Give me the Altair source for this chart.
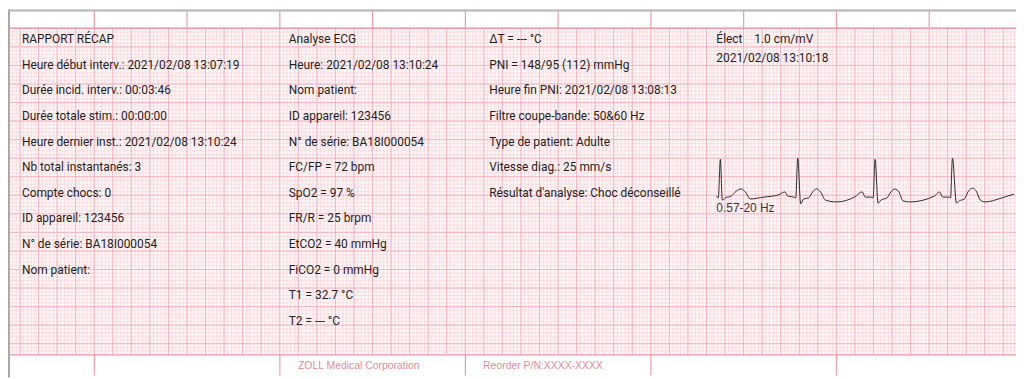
import altair as alt
import numpy as np
import pandas as pd

# ---------------- data ----------------
col1_text = [
    "RAPPORT RÉCAP",
    "Heure début interv.: 2021/02/08 13:07:19",
    "Durée incid. interv.: 00:03:46",
    "Durée totale stim.: 00:00:00",
    "Heure dernier inst.: 2021/02/08 13:10:24",
    "Nb total instantanés: 3",
    "Compte chocs: 0",
    "ID appareil: 123456",
    "N° de série: BA18I000054",
    "Nom patient:",
]
col2_text = [
    "Analyse ECG",
    "Heure: 2021/02/08 13:10:24",
    "Nom patient:",
    "ID appareil: 123456",
    "N° de série: BA18I000054",
    "FC/FP = 72 bpm",
    "SpO2 = 97 %",
    "FR/R = 25 brpm",
    "EtCO2 = 40 mmHg",
    "FiCO2 = 0 mmHg",
    "T1 = 32.7 °C",
    "T2 = --- °C",
]
col3_text = [
    "ΔT = --- °C",
    "PNI = 148/95 (112) mmHg",
    "Heure fin PNI: 2021/02/08 13:08:13",
    "Filtre coupe-bande: 50&60 Hz",
    "Type de patient: Adulte",
    "Vitesse diag.: 25 mm/s",
    "Résultat d'analyse: Choc déconseillé",
]
col4_text = ["Élect\u00a0\u00a0\u00a0\u00a01.0 cm/mV", "2021/02/08 13:10:18"]
ecg_filter_label = "0.57-20 Hz"
footer_text = ["ZOLL Medical Corporation", "Reorder P/N:XXXX-XXXX"]

# ECG trace: time (s) and amplitude (mV) read from the strip
ecg_t = [0.000, 0.021, 0.043, 0.064, 0.096, 0.160, 0.214, 0.267, 0.321, 0.364,
         0.513, 0.674, 0.706, 0.738, 0.770, 0.834, 0.856, 0.877, 0.909, 0.941,
         0.995, 1.037, 1.080, 1.123, 1.176, 1.294, 1.508, 1.540, 1.572, 1.604,
         1.668, 1.690, 1.711, 1.743, 1.775, 1.840, 1.882, 1.925, 1.968, 2.011,
         2.086, 2.353, 2.385, 2.406, 2.439, 2.503, 2.524, 2.545, 2.588, 2.620,
         2.674, 2.717, 2.759, 2.802, 2.845, 2.898, 3.080, 3.209]
ecg_mv = [0.00, -0.05, 0.99, -0.11, -0.05, 0.00, 0.13, 0.19, 0.08, -0.08,
          -0.03, 0.03, 0.08, 0.11, 0.00, -0.03, -0.05, 1.02, -0.21, -0.08,
          -0.05, 0.11, 0.19, 0.11, -0.11, -0.16, 0.00, 0.08, 0.11, -0.03,
          -0.03, -0.05, 0.99, -0.19, -0.11, -0.05, 0.11, 0.19, 0.11, -0.13,
          -0.16, 0.00, 0.08, 0.11, -0.03, -0.03, -0.05, 1.02, -0.19, -0.13,
          -0.08, 0.13, 0.21, 0.13, -0.11, -0.16, -0.05, 0.05]

# ---------------- paper geometry (mm) ----------------
XMIN, XMAX = -0.535, 271.12
YMIN, YMAX = -5.08, 94.12
GRID_W, GRID_H = 271.1, 88.0
MAJOR_OFFSET = 2.7
SEC_OFFSET = 22.73
SPEED = 25.0       # mm/s
GAIN = 10.0        # mm/mV
ROW0, ROW_STEP = 2.94, 6.9
COL_X = [3.21, 75.13, 129.14, 190.37]
ECG_X0, ECG_BASE = 190.37, 45.19

xs = alt.Scale(domain=[XMIN, XMAX], nice=False, zero=False)
ys = alt.Scale(domain=[YMIN, YMAX], nice=False, zero=False, reverse=True)
X = lambda f="x": alt.X(f"{f}:Q", scale=xs, axis=None)
Y = lambda f="y": alt.Y(f"{f}:Q", scale=ys, axis=None)

# grid
minor_v = pd.DataFrame({"x": np.arange(MAJOR_OFFSET - 2, GRID_W, 1.0), "y": 0.0, "y2": GRID_H})
major_v = pd.DataFrame({"x": np.arange(MAJOR_OFFSET, GRID_W, 5.0), "y": 0.0, "y2": GRID_H})
minor_h = pd.DataFrame({"y": np.arange(0, GRID_H + 0.01, 1.0), "x": 0.0, "x2": GRID_W})
major_h = pd.DataFrame({"y": np.arange(0, GRID_H + 0.01, 5.0), "x": 0.0, "x2": GRID_W})
border_h = pd.DataFrame({"y": [0.0, GRID_H], "x": 0.0, "x2": GRID_W})

paper = alt.Chart(pd.DataFrame({"x": [0.0], "x2": [GRID_W], "y": [0.0], "y2": [GRID_H]})).mark_rect(
    color="#fff7f8").encode(x=X(), x2="x2", y=Y(), y2="y2")

def vrules(df, color, w):
    return alt.Chart(df).mark_rule(color=color, strokeWidth=w).encode(x=X(), y=Y(), y2="y2")

def hrules(df, color, w):
    return alt.Chart(df).mark_rule(color=color, strokeWidth=w).encode(y=Y(), x=X(), x2="x2")

grid = [
    vrules(minor_v, "#fad3da", 0.7),
    hrules(minor_h, "#fad3da", 0.7),
    vrules(major_v, "#f4b4bf", 1.0),
    hrules(major_h, "#f4b4bf", 1.0),
    hrules(border_h, "#f09aa8", 1.4),
]

# second ticks top, 2-second ticks bottom
top_ticks = pd.DataFrame({"x": SEC_OFFSET + 25.0 * np.arange(10), "y": -4.8, "y2": 0.0})
bot_ticks = pd.DataFrame({"x": SEC_OFFSET + 50.0 * np.arange(5), "y": GRID_H, "y2": GRID_H + 5.6})
ticks = [vrules(top_ticks, "#f09aa8", 1.2), vrules(bot_ticks, "#f09aa8", 1.2)]

# left grey scan border
edge = alt.Chart(pd.DataFrame({"x": [XMIN], "x2": [0.0], "y": [YMIN], "y2": [YMAX]})).mark_rect(
    color="#a9a9a9").encode(x=X(), x2="x2", y=Y(), y2="y2")
edge_top = alt.Chart(pd.DataFrame({"x": [XMIN], "x2": [XMAX], "y": [YMIN], "y2": [YMIN + 0.55]})).mark_rect(
    color="#b4b4b4").encode(x=X(), x2="x2", y=Y(), y2="y2")

# text block
rows = []
for ci, col in enumerate([col1_text, col2_text, col3_text]):
    for ri, s in enumerate(col):
        rows.append({"x": COL_X[ci], "y": ROW0 + ri * ROW_STEP, "t": s})
rows.append({"x": COL_X[3], "y": ROW0, "t": col4_text[0]})
rows.append({"x": COL_X[3], "y": ROW0 + 0.75 * ROW_STEP, "t": col4_text[1]})
text_df = pd.DataFrame(rows)
FONT = "Roboto"
texts = alt.Chart(text_df).mark_text(align="left", baseline="middle", font=FONT, fontSize=12,
                                     color="#1e1e1e").encode(x=X(), y=Y(), text="t:N")

# ECG trace
ecg_df = pd.DataFrame({"t": ecg_t, "mv": ecg_mv})
ecg_df["x"] = ECG_X0 + ecg_df["t"] * SPEED
ecg_df["y"] = ECG_BASE - ecg_df["mv"] * GAIN
ecg = alt.Chart(ecg_df).mark_line(color="#2a2a2a", strokeWidth=1.0, interpolate="monotone").encode(
    x=X(), y=Y(), order="t:Q")

filt = alt.Chart(pd.DataFrame({"x": [COL_X[3]], "y": [ECG_BASE + 3.3], "t": [ecg_filter_label]})).mark_text(
    align="left", baseline="middle", font="Liberation Sans", fontSize=12, color="#3a3a3a").encode(
    x=X(), y=Y(), text="t:N")

footer = alt.Chart(pd.DataFrame({"x": [77.6, 127.5], "y": [GRID_H + 3.0, GRID_H + 3.0], "t": footer_text})).mark_text(
    align="left", baseline="middle", font="Liberation Sans", fontSize=10.5, color="#e88a98").encode(
    x=X(), y=Y(), text="t:N")

chart = alt.layer(paper, *grid, *ticks, edge, edge_top, texts, ecg, filt, footer).properties(
    width=1016, height=371, padding=0, autosize=alt.AutoSizeParams(type="none"), background="white"
).configure_view(stroke=None)

chart.save("out.html", embed_options={"renderer": "svg", "actions": False})
